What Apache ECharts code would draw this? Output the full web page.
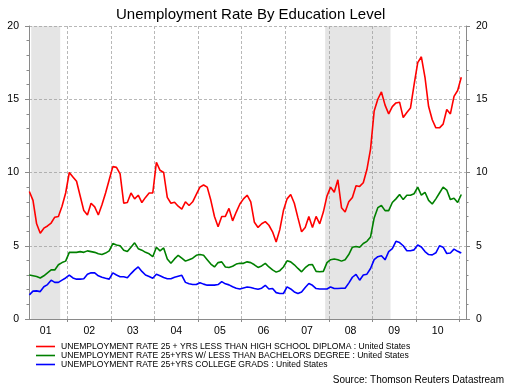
<!DOCTYPE html>
<html><head><meta charset="utf-8">
<script src="https://cdn.jsdelivr.net/npm/echarts@6/dist/echarts.min.js"></script>
<style>html,body{margin:0;padding:0;background:#fff}#c{width:508px;height:386px}</style>
</head><body><div id="c"></div>
<script>
const chartTitle = 'Unemployment Rate By Education Level';
const sourceText = 'Source: Thomson Reuters Datastream';
const seriesNames = [
  'UNEMPLOYMENT RATE 25 + YRS LESS THAN HIGH SCHOOL DIPLOMA : United States',
  'UNEMPLOYMENT RATE 25+YRS W/ LESS THAN BACHELORS DEGREE : United States',
  'UNEMPLOYMENT RATE 25+YRS COLLEGE GRADS : United States'
];
const seriesColors = ['#ff0000', '#008000', '#0000ff'];
// monthly observations, first one is Feb 2001 (plotted mid-month)
const firstYear = 2001;
const firstMonth = 2;
const years = [2001, 2002, 2003, 2004, 2005, 2006, 2007, 2008, 2009, 2010, 2011];
const yearLabels = ['01', '02', '03', '04', '05', '06', '07', '08', '09', '10'];
const yTicks = [0, 5, 10, 15, 20];
// recessions: [startYear, startMonth, endYear, endMonth]
const recessions = [[2001, 3, 2001, 11], [2007, 12, 2009, 6]];

const lessThanHighSchool = [
  8.7, 8.1, 6.5, 5.85, 6.2, 6.35, 6.55, 6.95, 7.0, 7.7,
  8.6, 10.0, 9.7, 9.4, 8.4, 7.4, 7.1, 7.9, 7.65, 7.1,
  7.8, 8.6, 9.5, 10.4, 10.35, 9.9, 7.9, 7.95, 8.6, 8.2,
  8.45, 7.95, 8.3, 8.6, 8.6, 10.7, 10.15, 10.0, 8.3, 7.9,
  7.97, 7.7, 7.5, 8.0, 7.75, 8.0, 8.5, 9.0, 9.15, 9.0,
  8.1, 7.0, 6.3, 7.0, 7.0, 7.55, 6.7, 7.3, 7.85, 8.2,
  8.45, 8.0, 6.6, 6.25, 6.5, 6.65, 6.4, 5.95, 5.25, 6.1,
  7.4, 8.2, 8.5, 7.9, 6.9, 5.95, 6.25, 7.0, 6.25, 7.0,
  6.5, 7.3, 8.4, 9.0, 8.65, 9.5, 7.6, 7.3, 8.0, 8.3,
  9.1, 9.05, 9.3, 10.2, 11.6, 14.2, 15.0, 15.5, 14.6, 14.0,
  14.5, 14.75, 14.8, 13.75, 14.1, 14.4, 16.0, 17.5, 17.9, 16.5,
  14.5, 13.6, 13.05, 13.05, 13.3, 14.3, 14.0, 15.2, 15.6, 16.5
];
const lessThanBachelors = [
  3.0, 2.95, 2.9, 2.8, 2.95, 3.15, 3.35, 3.35, 3.7, 3.85,
  3.95, 4.55, 4.55, 4.55, 4.6, 4.55, 4.65, 4.6, 4.55, 4.45,
  4.4, 4.5, 4.65, 5.15, 5.05, 5.0, 4.7, 4.6, 4.9, 5.2,
  4.8, 4.7, 4.55, 4.45, 4.25, 4.9, 4.65, 4.85, 4.1, 3.8,
  4.1, 4.35, 4.15, 3.95, 4.05, 4.15, 4.35, 4.4, 4.35, 4.05,
  3.75, 3.55, 3.85, 3.9, 3.55, 3.52, 3.6, 3.75, 3.8, 3.8,
  3.9, 3.85, 3.7, 3.52, 3.62, 3.8, 3.55, 3.35, 3.2, 3.3,
  3.55, 3.97, 3.9, 3.7, 3.45, 3.22, 3.5, 3.7, 3.72, 3.25,
  3.22, 3.25, 3.85, 4.05, 4.1, 4.05, 3.95, 4.05, 4.4, 4.9,
  4.95, 4.9, 5.15, 5.3, 5.6, 6.9, 7.6, 7.75, 7.4, 7.4,
  7.95, 8.2, 8.5, 8.15, 8.45, 8.45, 8.55, 9.0, 8.45, 8.65,
  8.1, 7.85, 8.2, 8.6, 9.0, 8.8, 8.15, 8.25, 7.95, 8.5
];
const collegeGrads = [
  1.65, 1.9, 1.92, 1.87, 2.2, 2.35, 2.65, 2.5, 2.5, 2.65,
  2.8, 3.0, 2.8, 2.72, 2.72, 2.75, 3.05, 3.15, 3.15, 2.95,
  2.85, 2.78, 2.72, 3.15, 3.0, 2.88, 2.88, 2.82, 3.1, 3.35,
  3.55, 3.25, 3.0, 2.9, 2.78, 3.05, 2.95, 2.83, 2.75, 2.75,
  2.85, 2.92, 2.98, 2.5, 2.4, 2.35, 2.35, 2.48, 2.38, 2.31,
  2.31, 2.31, 2.35, 2.55, 2.4, 2.33, 2.2, 2.1, 2.05, 2.12,
  2.18, 2.15, 2.08, 2.03, 2.1, 2.3, 2.05, 2.08, 1.8, 1.74,
  1.74, 2.19, 2.05, 1.85, 1.74, 1.85, 2.15, 2.42, 2.3, 2.08,
  2.05, 2.05, 2.05, 2.19, 2.08, 2.08, 2.1, 2.1, 2.45, 2.85,
  3.05, 2.65, 3.0, 3.06, 3.45, 4.05, 4.25, 4.32, 4.04, 4.6,
  4.8, 5.3, 5.22, 5.0, 4.66, 4.66, 4.72, 5.05, 4.92, 4.6,
  4.4, 4.38, 4.52, 5.0, 4.9, 4.47, 4.5, 4.77, 4.62, 4.5
];

// helpers: convert year/month to months since Jan 2001
const monthIndex = (y, m) => (y - firstYear) * 12 + (m - 1);
const toPoints = arr => arr.map((v, i) => [monthIndex(firstYear, firstMonth) + i + 0.5, v]);
const yearBoundaries = years.map(y => monthIndex(y, 1));
const yearCenters = yearLabels.map((l, i) => monthIndex(years[i], 1) + 6);
const xMin = monthIndex(firstYear, firstMonth) + 0.4;
const xMax = monthIndex(firstYear, firstMonth) + lessThanHighSchool.length + 0.8;

const FONT = '"Liberation Sans", Arial, sans-serif';
const gridColor = '#b8b8b8';
const axisColor = '#8a8a8a';

const chart = echarts.init(document.getElementById('c'), null, {renderer: 'canvas'});
const dataSets = [lessThanHighSchool, lessThanBachelors, collegeGrads];

const yAxisBase = pos => ({
  type: 'value', position: pos, min: yTicks[0], max: yTicks[yTicks.length - 1], interval: 5,
  axisLine: {show: true, onZero: false, lineStyle: {color: axisColor, width: 1}},
  axisTick: {show: true, length: 4, lineStyle: {color: axisColor}},
  minorTick: {show: true, splitNumber: 5, length: 2.5, lineStyle: {color: axisColor}},
  axisLabel: {color: '#000', fontSize: 10.5, fontFamily: FONT, margin: 10},
  splitLine: {show: pos === 'left', lineStyle: {color: gridColor, type: [3, 2], width: 1}}
});

chart.setOption({
  animation: false,
  backgroundColor: '#fff',
  title: {
    text: chartTitle, left: 111, top: 2,
    textStyle: {fontSize: 15, fontWeight: 'normal', color: '#000', fontFamily: FONT}
  },
  graphic: [{
    type: 'text', right: 4, top: 375,
    style: {text: sourceText, fontSize: 10, fill: '#000', fontFamily: FONT}
  }],
  grid: {left: 29, right: 42, top: 26, bottom: 67, containLabel: false},
  legend: {
    orient: 'vertical', left: 31, top: 337, itemGap: 0,
    itemWidth: 19, itemHeight: 1.6, icon: 'rect',
    data: seriesNames,
    textStyle: {fontSize: 8.6, fontFamily: FONT, color: '#000', lineHeight: 9, padding: [0, 0, 0, 1]}
  },
  xAxis: {
    type: 'value', min: xMin, max: xMax,
    axisLine: {show: true, onZero: false, lineStyle: {color: axisColor}},
    axisTick: {show: true, customValues: yearBoundaries, length: 3, lineStyle: {color: axisColor}},
    axisLabel: {
      customValues: yearCenters, color: '#000', fontSize: 10.5, fontFamily: FONT, margin: 7,
      formatter: v => yearLabels[yearCenters.indexOf(v)]
    },
    splitLine: {show: true, lineStyle: {color: gridColor, type: [3, 2], width: 1}}
  },
  yAxis: [yAxisBase('left'), yAxisBase('right')],
  series: [
    {
      type: 'line', name: 'recessions', data: [], z: -1, silent: true,
      markArea: {
        silent: true,
        itemStyle: {color: 'rgba(150,150,150,0.25)'},
        data: recessions.map(r => [{xAxis: monthIndex(r[0], r[1])}, {xAxis: monthIndex(r[2], r[3])}])
      }
    },
    ...dataSets.map((d, i) => ({
      type: 'line', name: seriesNames[i], data: toPoints(d),
      showSymbol: false, symbol: 'none', z: 3,
      lineStyle: {color: seriesColors[i], width: 1.6},
      itemStyle: {color: seriesColors[i]}
    }))
  ]
});
</script></body></html>
